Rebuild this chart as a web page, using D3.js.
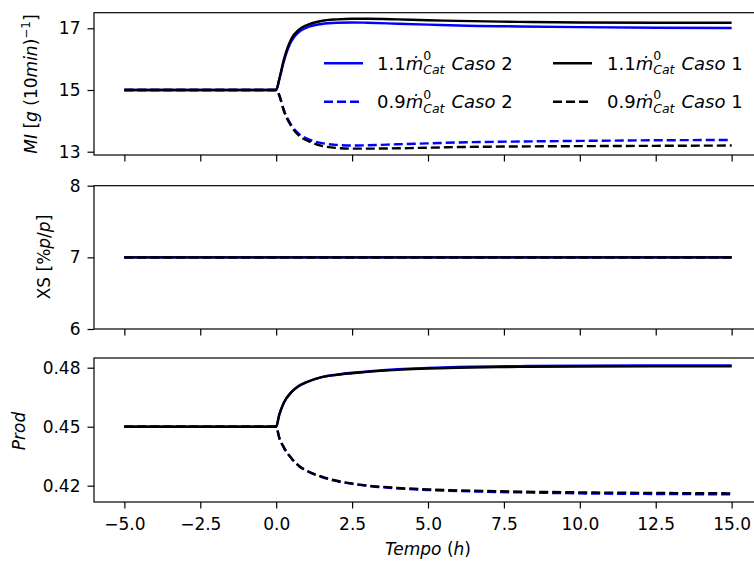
<!DOCTYPE html>
<html>
<head>
<meta charset="utf-8">
<script src="https://cdn.jsdelivr.net/npm/d3@7"></script>
<style>
  body { margin: 0; background: #fff; }
  svg { display: block; }
  text { font-family: "DejaVu Sans", sans-serif; fill: #000; }
</style>
</head>
<body>
<svg id="chart" width="754" height="562"></svg>
<script>
// ---- data -------------------------------------------------------------
// time after the step change in catalyst feed (h)
const tempo = [-5, 0, 0.1, 0.25, 0.5, 0.75, 1, 1.5, 2, 2.5, 3, 4, 5, 6, 8, 10, 12.5, 15];

// melt index MI [g (10 min)^-1]
const miAlto2  = [15, 15, 15.33, 15.92, 16.58, 16.88, 17.02, 17.14, 17.18, 17.19, 17.18, 17.15, 17.12, 17.09, 17.06, 17.04, 17.02, 17.01];
const miBaixo2 = [15, 15, 14.84, 14.36, 13.86, 13.58, 13.43, 13.28, 13.22, 13.20, 13.21, 13.24, 13.27, 13.30, 13.33, 13.35, 13.37, 13.38];
const miAlto1  = [15, 15, 15.35, 15.98, 16.66, 16.96, 17.10, 17.24, 17.29, 17.31, 17.31, 17.29, 17.26, 17.24, 17.21, 17.19, 17.18, 17.18];
const miBaixo1 = [15, 15, 14.83, 14.33, 13.82, 13.52, 13.37, 13.19, 13.12, 13.10, 13.10, 13.11, 13.13, 13.15, 13.17, 13.18, 13.19, 13.20];

// xylene solubles XS [%p/p]
const tempoXS  = [-5, 15];
const xsAlto2  = [7, 7];
const xsBaixo2 = [7, 7];
const xsAlto1  = [7, 7];
const xsBaixo1 = [7, 7];

// productivity
const prodAlto2  = [0.45, 0.45, 0.4560, 0.4621, 0.4675, 0.4707, 0.4726, 0.4752, 0.4765, 0.4774, 0.4781, 0.4792, 0.4799, 0.4804, 0.4808, 0.4810, 0.4811, 0.4812];
const prodBaixo2 = [0.45, 0.45, 0.4445, 0.4395, 0.4340, 0.4300, 0.4276, 0.4244, 0.4223, 0.4209, 0.4199, 0.4186, 0.4178, 0.4173, 0.4166, 0.4161, 0.4158, 0.4156];
const prodAlto1  = [0.45, 0.45, 0.4560, 0.4622, 0.4676, 0.4708, 0.4727, 0.4752, 0.4764, 0.4772, 0.4779, 0.4789, 0.4796, 0.4800, 0.4804, 0.4806, 0.4807, 0.4807];
const prodBaixo1 = [0.45, 0.45, 0.4445, 0.4395, 0.4340, 0.4300, 0.4277, 0.4246, 0.4225, 0.4211, 0.4201, 0.4189, 0.4181, 0.4176, 0.4170, 0.4166, 0.4163, 0.4161];

// tick labels
const xTicks    = [-5, -2.5, 0, 2.5, 5, 7.5, 10, 12.5, 15];
const miTicks   = [13, 15, 17];
const xsTicks   = [6, 7, 8];
const prodTicks = [0.42, 0.45, 0.48];

// legend entries: factor, case
const legendFactor = ["1.1", "0.9", "1.1", "0.9"];
const legendCase   = ["2", "2", "1", "1"];

// ---- layout -----------------------------------------------------------
const FONT = 17;
const LEG_FONT = 18;
const LW = 2.4;
const DASH = "9,4";
const BLUE = "#0000ff";
const BLACK = "#000000";

const svg = d3.select("#chart");
const x = d3.scaleLinear().domain([-6, 16]).range([94, 762]);

const styles = [
  { color: BLUE,  dash: null },
  { color: BLUE,  dash: DASH },
  { color: BLACK, dash: null },
  { color: BLACK, dash: DASH }
];

const panels = [
  { domain: [12.893, 17.506], range: [155, 12.7], ticks: miTicks, fmt: d3.format("d"),
    times: tempo, series: [miAlto2, miBaixo2, miAlto1, miBaixo1] },
  { domain: [6, 8], range: [329, 185.7], ticks: xsTicks, fmt: d3.format("d"),
    times: tempoXS, series: [xsAlto2, xsBaixo2, xsAlto1, xsBaixo1] },
  { domain: [0.41171, 0.48493], range: [502, 358], ticks: prodTicks, fmt: d3.format(".2f"),
    times: tempo, series: [prodAlto2, prodBaixo2, prodAlto1, prodBaixo1] }
];

// writes a run of styled pieces into a <text>; pieces can be raised,
// lowered, shrunk and stacked over the previous piece
function richText(textSel, parts) {
  let shift = 0;
  let prevW = 0;
  parts.forEach(p => {
    const ts = textSel.append("tspan").text(p.t);
    if (p.it) ts.style("font-style", "italic");
    if (p.size) ts.style("font-size", p.size + "px");
    const target = p.shift || 0;
    const dy = target - shift;
    if (dy !== 0) ts.attr("dy", dy);
    if (p.stack) ts.attr("dx", -prevW);
    else if (p.gap) ts.attr("dx", p.gap);
    shift = target;
    prevW = ts.node().getComputedTextLength();
  });
  return textSel;
}

panels.forEach((p, pi) => {
  const y = d3.scaleLinear().domain(p.domain).range(p.range);
  const g = svg.append("g");
  const top = p.range[1], bottom = p.range[0];

  // series lines
  const line = d3.line()
    .x((d, i) => x(p.times[i]))
    .y(d => y(d))
    .curve(d3.curveMonotoneX);
  p.series.forEach((vals, si) => {
    g.append("path")
      .datum(vals)
      .attr("d", line)
      .attr("fill", "none")
      .attr("stroke", styles[si].color)
      .attr("stroke-width", LW)
      .attr("stroke-dasharray", styles[si].dash);
  });

  // y axis
  const ya = g.append("g")
    .attr("transform", `translate(${x.range()[0]},0)`)
    .call(d3.axisLeft(y).tickValues(p.ticks).tickFormat(p.fmt).tickSize(6.5).tickPadding(7));
  ya.select(".domain").remove();
  ya.selectAll("line").attr("stroke-width", 1.2);
  ya.selectAll("text").style("font-size", FONT + "px").attr("font-family", null);

  // x axis (labels only on the last panel)
  const xa = g.append("g")
    .attr("transform", `translate(0,${bottom})`)
    .call(d3.axisBottom(x).tickValues(xTicks)
      .tickFormat(pi === panels.length - 1 ? d3.format(".1f") : () => "")
      .tickSize(6.5).tickPadding(9.5));
  xa.select(".domain").remove();
  xa.selectAll("line").attr("stroke-width", 1.2);
  xa.selectAll("text").style("font-size", FONT + "px").attr("font-family", null);

  // frame
  g.append("rect")
    .attr("x", x.range()[0]).attr("y", top)
    .attr("width", x.range()[1] - x.range()[0]).attr("height", bottom - top)
    .attr("fill", "none").attr("stroke", "#000").attr("stroke-width", 1.2);
});

// ---- axis titles ------------------------------------------------------
function yTitle(bx, cy, parts) {
  const t = svg.append("text")
    .attr("transform", `translate(${bx},${cy}) rotate(-90)`)
    .attr("text-anchor", "middle")
    .style("font-size", FONT + "px");
  richText(t, parts);
}

yTitle(37, 84, [
  { t: "MI", it: true }, { t: " [" }, { t: "g", it: true }, { t: " (10" },
  { t: "min", it: true }, { t: ")" }, { t: "−1", size: 12, shift: -7 }, { t: "]", shift: 0 }
]);
yTitle(49.5, 257, [
  { t: "XS [%" }, { t: "p", it: true }, { t: "/" }, { t: "p", it: true }, { t: "]" }
]);
yTitle(25, 431, [{ t: "Prod", it: true }]);

const xt = svg.append("text")
  .attr("x", (x(-6) + x(16)) / 2).attr("y", 555)
  .attr("text-anchor", "middle")
  .style("font-size", FONT + "px");
richText(xt, [{ t: "Tempo", it: true }, { t: " (" }, { t: "h", it: true }, { t: ")" }]);

// ---- legend -----------------------------------------------------------
const legendCols = [{ x1: 324, x2: 363, tx: 377 }, { x1: 553, x2: 592, tx: 607 }];
const legendRows = [63.3, 101.7];
const leg = svg.append("g");
legendFactor.forEach((f, i) => {
  const col = legendCols[Math.floor(i / 2)];
  const ry = legendRows[i % 2];
  leg.append("line")
    .attr("x1", col.x1).attr("x2", col.x2).attr("y1", ry).attr("y2", ry)
    .attr("stroke", styles[i].color).attr("stroke-width", LW)
    .attr("stroke-dasharray", styles[i].dash);
  const t = leg.append("text")
    .attr("x", col.tx).attr("y", ry + 6.5)
    .style("font-size", LEG_FONT + "px");
  richText(t, [
    { t: f }, { t: "ṁ", it: true },
    { t: "0", size: 12.5, shift: -9.5 },
    { t: "Cat", it: true, size: 12.5, shift: 4.5, stack: true },
    { t: "Caso", it: true, shift: 0, gap: 7 }, { t: " " + legendCase[i] }
  ]);
});
</script>
</body>
</html>
